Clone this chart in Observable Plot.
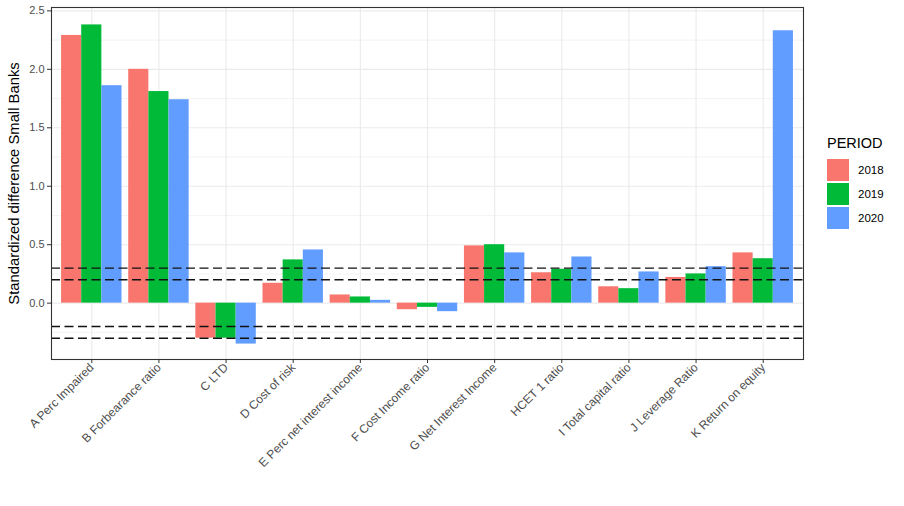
<!DOCTYPE html>
<html>
<head>
<meta charset="utf-8">
<script src="https://cdn.jsdelivr.net/npm/d3@7"></script>
<script src="https://cdn.jsdelivr.net/npm/@observablehq/plot@0.6"></script>
<style>
  html, body { margin: 0; padding: 0; background: #fff; }
  #wrap { position: relative; width: 904px; height: 506px; font-family: "Liberation Sans", Arial, sans-serif; }
  #legend { position: absolute; left: 827px; top: 134px; }
  #legend .title { font-size: 14.5px; color: #000; height: 24px; line-height: 18px; }
  #legend .row { display: flex; align-items: center; height: 24px; }
  #legend .key { width: 22px; height: 22px; margin-right: 9px; }
  #legend .lab { font-size: 11.5px; color: #000; }
</style>
</head>
<body>
<div id="wrap"></div>
<script>
const categories = ["A Perc Impaired", "B Forbearance ratio", "C LTD", "D Cost of risk",
  "E Perc net interest income", "F Cost Income ratio", "G Net Interest Income",
  "HCET 1 ratio", "I Total capital ratio", "J Leverage Ratio", "K Return on equity"];
const periods = ["2018", "2019", "2020"];
const v2018 = [2.29, 2.00, -0.30, 0.17, 0.07, -0.056, 0.49, 0.26, 0.14, 0.22, 0.43];
const v2019 = [2.38, 1.81, -0.30, 0.37, 0.053, -0.036, 0.50, 0.29, 0.124, 0.25, 0.38];
const v2020 = [1.86, 1.74, -0.35, 0.455, 0.024, -0.073, 0.43, 0.395, 0.267, 0.312, 2.33];
const periodColors = ["#F8766D", "#00BA38", "#619CFF"];
const thresholds = [-0.3, -0.2, 0.2, 0.3];
const yMajor = [0, 0.5, 1, 1.5, 2, 2.5];
const yMinor = [-0.25, 0.25, 0.75, 1.25, 1.75, 2.25];
const yLabel = "Standardized difference Small Banks";
const legendTitle = "PERIOD";

const series = [v2018, v2019, v2020];
const data = [];
categories.forEach((c, i) => {
  periods.forEach((p, j) => {
    data.push({cat: c, idx: i + 1, period: p, pj: j, value: series[j][i]});
  });
});
const catIdx = categories.map((c, i) => i + 1);

const chart = Plot.plot({
  width: 904,
  height: 506,
  marginLeft: 51,
  marginRight: 101,
  marginTop: 7,
  marginBottom: 147,
  style: {fontFamily: "'Liberation Sans', Arial, sans-serif", fontSize: "12px", color: "#4D4D4D", background: "#fff"},
  x: {
    type: "linear",
    domain: [0.4, categories.length + 0.6],
    ticks: catIdx,
    tickFormat: d => categories[d - 1],
    tickRotate: -45,
    tickSize: 4,
    tickPadding: 2,
    label: null
  },
  y: {
    domain: [-0.482, 2.529],
    ticks: yMajor,
    tickFormat: d3.format(".1f"),
    tickSize: 4,
    tickPadding: 3,
    label: null
  },
  color: {domain: periods, range: periodColors},
  marks: [
    Plot.ruleY(yMinor, {stroke: "#EBEBEB", strokeWidth: 0.6}),
    Plot.ruleY(yMajor, {stroke: "#EBEBEB", strokeWidth: 1.1}),
    Plot.ruleX(catIdx, {stroke: "#EBEBEB", strokeWidth: 1.1}),
    Plot.rectY(data, {
      x1: d => d.idx - 0.45 + d.pj * 0.3,
      x2: d => d.idx - 0.15 + d.pj * 0.3,
      y1: 0,
      y2: "value",
      fill: "period"
    }),
    Plot.ruleY(thresholds, {stroke: "#111", strokeWidth: 1.4, strokeDasharray: "9,4.5"}),
    Plot.frame({stroke: "#333", strokeWidth: 1.1}),
    Plot.text([yLabel], {frameAnchor: "left", textAnchor: "middle", lineAnchor: "middle", rotate: -90, dx: -37, fontSize: 14.8, fill: "#000"})
  ]
});

const wrap = document.getElementById("wrap");
wrap.appendChild(chart);
const svg = wrap.querySelector("svg");
if (svg) {
  svg.style.position = "absolute"; svg.style.left = "0"; svg.style.top = "0";
  svg.querySelectorAll('g[aria-label^="y-axis"] text').forEach(n => { n.style.fontSize = "11px"; });
  svg.querySelectorAll('g[aria-label^="x-axis"] path, g[aria-label^="y-axis"] path, g[aria-label^="x-axis"] line, g[aria-label^="y-axis"] line').forEach(n => { n.style.stroke = "#333"; });
}

const legend = document.createElement("div");
legend.id = "legend";
const t = document.createElement("div");
t.className = "title";
t.textContent = legendTitle;
legend.appendChild(t);
periods.forEach((p, j) => {
  const row = document.createElement("div");
  row.className = "row";
  const k = document.createElement("div");
  k.className = "key";
  k.style.background = periodColors[j];
  const l = document.createElement("div");
  l.className = "lab";
  l.textContent = p;
  row.appendChild(k); row.appendChild(l);
  legend.appendChild(row);
});
wrap.appendChild(legend);
</script>
</body>
</html>
